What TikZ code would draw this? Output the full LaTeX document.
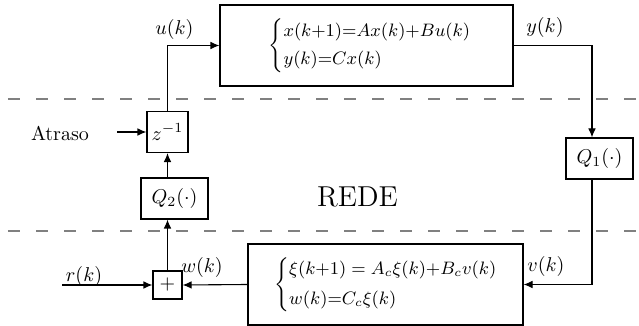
\documentclass[tikz,border=0pt]{standalone}
\usepackage{amsmath}
\usetikzlibrary{arrows.meta}
\begin{document}
\begin{tikzpicture}[x=0.5pt,y=-0.5pt,
  blk/.style={draw, line width=0.55pt, inner sep=1pt, align=center},
  arr/.style={line width=0.55pt, -{Latex[length=4.5pt,width=3.8pt]}},
  net/.style={draw=gray, line width=0.9pt, dash pattern=on 6pt off 8pt},
  lbl/.style={inner sep=0pt}]
\useasboundingbox (0,0) rectangle (639,326);
% network boundaries
\coordinate (d1a) at (8,99);  \coordinate (d1b) at (639,99);
\coordinate (d2a) at (8,231); \coordinate (d2b) at (639,231);
\draw[net] (d1a) -- (d1b);
\draw[net] (d2a) -- (d2b);
% blocks
\node[blk, minimum width=146.5pt, minimum height=40.5pt] (plant) at (366.5,45.5)
  {\hspace*{13pt}\small$\begin{cases} x(k{+}1){=}Ax(k){+}Bu(k)\\[1pt] y(k){=}Cx(k)\end{cases}$};
\node[blk, minimum width=137.5pt, minimum height=40.5pt] (ctrl) at (385.5,284.5)
  {\hspace*{10pt}\small$\begin{cases} \xi(k{+}1) = A_c\xi(k){+}B_cv(k)\\[2pt] w(k){=}C_c\xi(k)\end{cases}$};
\node[blk, minimum width=20.5pt, minimum height=20.5pt] (z) at (167.5,132) {$z^{-1}$};
\node[blk, minimum width=33.5pt, minimum height=20.5pt] (q2) at (174.5,198.5) {$Q_2(\cdot)$};
\node[blk, minimum width=33.5pt, minimum height=20.5pt] (q1) at (599.5,158.5) {$Q_1(\cdot)$};
\node[blk, minimum width=14.5pt, minimum height=14pt, inner sep=0pt] (sum) at (167.5,285) {$+$};
% labels
\node[lbl] (ul) at (174.5,30) {$u(k)$};
\node[lbl] (yl) at (545,28) {$y(k)$};
\node[lbl] (wl) at (202,268) {$w(k)$};
\node[lbl] (vl) at (546,267) {$v(k)$};
\node[lbl] (rl) at (84,277) {$r(k)$};
\node[lbl] (rede) at (357.5,197) {\Large REDE};
\node[lbl] (atr) at (60,133) {Atraso};
% connectors
\draw[arr] (z.north) |- (plant.west);
\coordinate (ya) at (592,45.5);
\draw[arr] (plant.east) -- (ya) -- (ya |- q1.north);
\coordinate (va) at (592,284.5);
\draw[arr] (va |- q1.south) -- (va) -- (ctrl.east);
\draw[arr] (ctrl.west) -- (sum.east);
\coordinate (rin) at (62,285);
\draw[arr] (rin) -- (sum.west);
\draw[arr] (sum.north) -- (sum.north |- q2.south);
\draw[arr] (z.south |- q2.north) -- (z.south);
\coordinate (ain) at (117,132);
\draw[arr] (ain) -- (z.west);
\end{tikzpicture}
\end{document}
